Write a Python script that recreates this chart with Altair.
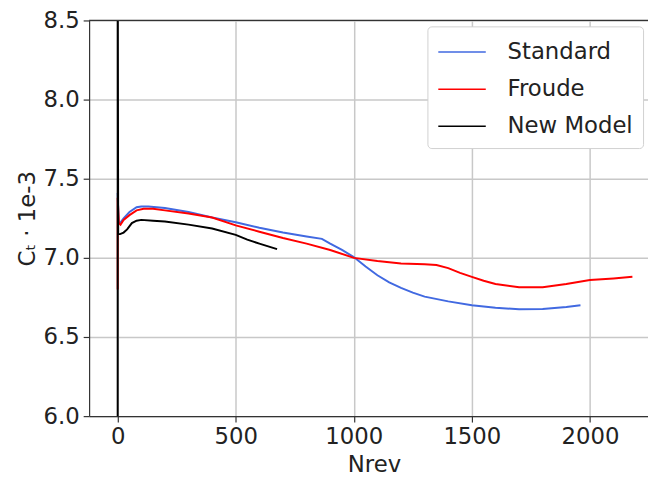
import altair as alt
import pandas as pd

# ---- data ----
series_names = ["Standard", "Froude", "New Model"]
series_colors = ["#4169E1", "#FF0000", "#000000"]

std_n = [0, 4, 10, 25, 50, 80, 100, 130, 200, 300, 400, 500, 600, 700, 800, 865,
         900, 950, 1000, 1050, 1100, 1150, 1200, 1250, 1300, 1400, 1500, 1600,
         1700, 1800, 1900, 1960]
std_v = [7.41, 7.22, 7.22, 7.25, 7.29, 7.32, 7.325, 7.325, 7.315, 7.29, 7.255,
         7.225, 7.19, 7.16, 7.135, 7.12, 7.09, 7.05, 7.005, 6.945, 6.89, 6.845,
         6.81, 6.78, 6.755, 6.725, 6.70, 6.685, 6.675, 6.677, 6.69, 6.70]

fr_n = [0, 0, 5, 12, 25, 50, 80, 110, 150, 200, 300, 400, 500, 600, 700, 800, 900,
        1000, 1100, 1200, 1300, 1350, 1400, 1450, 1500, 1550, 1600, 1700, 1800,
        1900, 2000, 2100, 2180]
fr_v = [6.80, 7.38, 7.22, 7.21, 7.24, 7.27, 7.30, 7.31, 7.31, 7.30, 7.28, 7.255,
        7.205, 7.165, 7.125, 7.09, 7.05, 7.0, 6.98, 6.965, 6.96, 6.955, 6.935,
        6.905, 6.88, 6.855, 6.835, 6.815, 6.815, 6.835, 6.86, 6.87, 6.88]

nm_n = [0, 0, 2, 10, 25, 40, 60, 80, 100, 150, 200, 300, 400, 500, 549, 600, 675]
nm_v = [5.0, 9.0, 7.15, 7.15, 7.16, 7.18, 7.22, 7.235, 7.24, 7.235, 7.23, 7.21,
        7.185, 7.145, 7.115, 7.09, 7.055]

x_ticks = [0, 500, 1000, 1500, 2000]
y_ticks = [6.0, 6.5, 7.0, 7.5, 8.0, 8.5]

rows = []
for name, ns, vs in [("Standard", std_n, std_v), ("Froude", fr_n, fr_v),
                     ("New Model", nm_n, nm_v)]:
    for i, (n, v) in enumerate(zip(ns, vs)):
        rows.append({"series": name, "Nrev": n, "CT": v, "idx": i})
df = pd.DataFrame(rows)

W, H = 565, 400
FONT = "DejaVu Sans"
TXT = "#222222"

lines = alt.Chart(df).mark_line(strokeWidth=2, clip=True).encode(
    x=alt.X("Nrev:Q",
            scale=alt.Scale(domain=[-121, 2246], nice=False, zero=False),
            axis=alt.Axis(values=x_ticks, title="Nrev", format="d",
                          titleX=288, titleY=49, titleBaseline="middle",
                          titleAlign="center", labelPadding=4)),
    y=alt.Y("CT:Q",
            scale=alt.Scale(domain=[6.0, 8.5], nice=False, zero=False),
            axis=alt.Axis(values=y_ticks, title="Cₜ · 1e-3", format=".1f",
                          titleX=-62, titleY=200, titleBaseline="middle",
                          titleAlign="center", titleAngle=-90, labelPadding=4)),
    color=alt.Color("series:N",
                    scale=alt.Scale(domain=series_names, range=series_colors),
                    legend=alt.Legend(title=None, orient="none", legendX=342,
                                      legendY=6, symbolType="M-1,0H2.2",
                                      symbolSize=900, symbolStrokeWidth=1.5,
                                      labelFontSize=23, labelFont=FONT,
                                      labelColor=TXT, labelOffset=39,
                                      labelLimit=300, rowPadding=9.5,
                                      padding=10, strokeColor="#d0d0d0",
                                      cornerRadius=4, fillColor="#ffffff")),
    order=alt.Order("idx:Q"),
)

top_spine = alt.Chart(pd.DataFrame({"a": [0]})).mark_rule(
    color="#333333", strokeWidth=1.2).encode(
    x=alt.value(0), x2=alt.value(W), y=alt.value(0))

chart = alt.layer(lines, top_spine).properties(
    width=W, height=H,
    autosize=alt.AutoSizeParams(type="none"),
    padding={"left": 82, "top": 10, "right": 0, "bottom": 64},
).configure_view(strokeWidth=0).configure_axis(
    labelFont=FONT, titleFont=FONT, labelFontSize=23, titleFontSize=23,
    labelColor=TXT, titleColor=TXT, titleFontWeight="normal",
    domainColor="#333333", domainWidth=1.2, tickColor="#333333",
    tickSize=6, tickWidth=1.2, gridColor="#c8c8c8", gridWidth=1.5,
    labelFlush=False, labelOverlap=False,
)

chart.save("out.html", embed_options={"renderer": "svg", "actions": False})
